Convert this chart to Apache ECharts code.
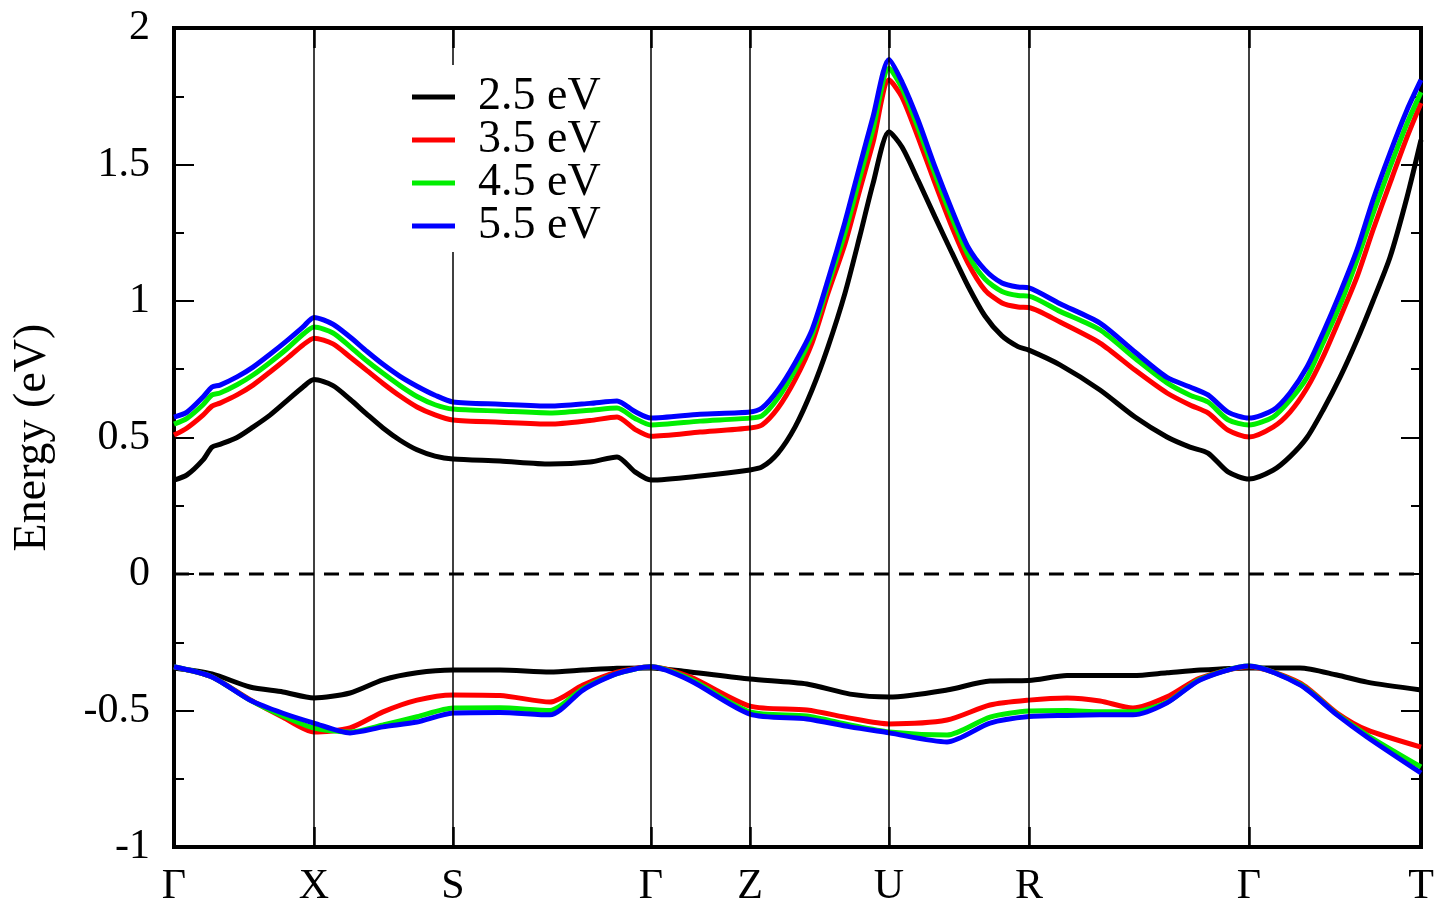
<!DOCTYPE html>
<html>
<head>
<meta charset="utf-8">
<title>Band structure</title>
<script src="https://cdn.jsdelivr.net/npm/echarts@6/dist/echarts.min.js"></script>
<style>
  html, body { margin: 0; padding: 0; background: #fff; }
  #chart { width: 1437px; height: 909px; }
</style>
</head>
<body>
<div id="chart"></div>
<script>
// high-symmetry points along the k-path
var kPos = [0, 0.140, 0.279, 0.477, 0.576, 0.715, 0.855, 1.075, 1.247]
var kLabels = ['Γ', 'X', 'S', 'Γ', 'Z', 'U', 'R', 'Γ', 'T']

var seriesNames = ['2.5 eV', '3.5 eV', '4.5 eV', '5.5 eV']
var seriesColors = ['#000000', '#ff0000', '#00ee00', '#0000ff']

// conduction band (lowest unoccupied), sampled k
var kCond = [0, 0.013, 0.029, 0.038, 0.046, 0.063, 0.079, 0.096, 0.113, 0.129, 0.140,
  0.159, 0.176, 0.193, 0.209, 0.226, 0.243, 0.261, 0.279,
  0.326, 0.376, 0.416, 0.443, 0.461, 0.477,
  0.526, 0.576,
  0.588, 0.604, 0.621, 0.638, 0.654, 0.671, 0.686, 0.699, 0.715,
  0.728, 0.744, 0.761, 0.778, 0.794, 0.811, 0.828, 0.844, 0.855,
  0.886, 0.926, 0.961, 0.993, 1.016, 1.034, 1.054, 1.075,
  1.099, 1.116, 1.133, 1.149, 1.166, 1.183, 1.199, 1.216, 1.233, 1.247]
var cb25 = [0.344, 0.363, 0.418, 0.465, 0.475, 0.500, 0.538, 0.582, 0.635, 0.685, 0.712,
  0.690, 0.640, 0.585, 0.535, 0.490, 0.455, 0.432, 0.421,
  0.414, 0.403, 0.410, 0.429, 0.374, 0.344,
  0.359, 0.381,
  0.392, 0.443, 0.538, 0.674, 0.832, 1.029, 1.240, 1.430, 1.620,
  1.564, 1.443, 1.308, 1.176, 1.055, 0.945, 0.872, 0.833, 0.820,
  0.766, 0.674, 0.575, 0.502, 0.465, 0.443, 0.374, 0.348,
  0.380, 0.430, 0.500, 0.600, 0.720, 0.857, 1.000, 1.160, 1.380, 1.590]
var cb35 = [0.509, 0.535, 0.582, 0.615, 0.626, 0.656, 0.692, 0.740, 0.790, 0.839, 0.864,
  0.843, 0.795, 0.745, 0.698, 0.652, 0.612, 0.583, 0.564,
  0.556, 0.549, 0.562, 0.575, 0.530, 0.505,
  0.520, 0.535,
  0.546, 0.608, 0.711, 0.846, 1.029, 1.210, 1.410, 1.580, 1.810,
  1.747, 1.600, 1.432, 1.271, 1.139, 1.040, 0.993, 0.978, 0.976,
  0.923, 0.846, 0.747, 0.663, 0.619, 0.590, 0.527, 0.502,
  0.538, 0.593, 0.681, 0.795, 0.938, 1.088, 1.260, 1.432, 1.600, 1.725]
var cb45 = [0.549, 0.570, 0.620, 0.656, 0.663, 0.693, 0.729, 0.775, 0.825, 0.878, 0.905,
  0.883, 0.833, 0.780, 0.735, 0.690, 0.650, 0.620, 0.604,
  0.597, 0.590, 0.600, 0.608, 0.570, 0.546,
  0.560, 0.571,
  0.580, 0.645, 0.747, 0.875, 1.058, 1.250, 1.455, 1.630, 1.853,
  1.780, 1.635, 1.465, 1.305, 1.170, 1.080, 1.035, 1.020, 1.018,
  0.962, 0.894, 0.790, 0.700, 0.655, 0.630, 0.565, 0.546,
  0.575, 0.637, 0.720, 0.846, 0.985, 1.150, 1.320, 1.490, 1.650, 1.765]
var cb55 = [0.575, 0.593, 0.648, 0.685, 0.692, 0.722, 0.758, 0.805, 0.855, 0.905, 0.940,
  0.915, 0.868, 0.815, 0.768, 0.724, 0.688, 0.655, 0.630,
  0.622, 0.615, 0.625, 0.634, 0.595, 0.571,
  0.585, 0.593,
  0.608, 0.674, 0.773, 0.894, 1.077, 1.290, 1.498, 1.674, 1.885,
  1.802, 1.663, 1.491, 1.333, 1.198, 1.114, 1.066, 1.051, 1.048,
  0.990, 0.919, 0.813, 0.720, 0.685, 0.656, 0.593, 0.571,
  0.600, 0.663, 0.758, 0.883, 1.029, 1.187, 1.370, 1.542, 1.700, 1.810]

// valence band (highest occupied), sampled k
var kVal = [0, 0.038, 0.076, 0.109, 0.140, 0.176, 0.209, 0.243, 0.279, 0.326,
  0.376, 0.409, 0.443, 0.477, 0.516, 0.576, 0.633, 0.676, 0.715, 0.773, 0.816,
  0.855, 0.893, 0.926, 0.959, 0.993, 1.026, 1.075, 1.126, 1.163, 1.193, 1.247]
var vb25 = [-0.344, -0.366, -0.414, -0.432, -0.454, -0.436, -0.388, -0.362, -0.352, -0.352,
  -0.359, -0.352, -0.345, -0.344, -0.359, -0.385, -0.403, -0.440, -0.451, -0.425, -0.392,
  -0.390, -0.372, -0.372, -0.372, -0.362, -0.352, -0.344, -0.344, -0.370, -0.396, -0.425]
var vb35 = [-0.340, -0.377, -0.460, -0.525, -0.579, -0.564, -0.505, -0.462, -0.443, -0.445,
  -0.469, -0.407, -0.360, -0.340, -0.377, -0.484, -0.498, -0.528, -0.549, -0.535, -0.480,
  -0.462, -0.454, -0.465, -0.491, -0.450, -0.381, -0.340, -0.399, -0.509, -0.571, -0.634]
var vb45 = [-0.340, -0.377, -0.462, -0.520, -0.564, -0.579, -0.553, -0.523, -0.491, -0.490,
  -0.500, -0.420, -0.365, -0.340, -0.385, -0.505, -0.520, -0.553, -0.579, -0.590, -0.524,
  -0.502, -0.500, -0.505, -0.505, -0.470, -0.386, -0.337, -0.404, -0.514, -0.590, -0.707]
var vb55 = [-0.340, -0.377, -0.462, -0.510, -0.546, -0.582, -0.560, -0.542, -0.509, -0.507,
  -0.516, -0.425, -0.365, -0.340, -0.390, -0.513, -0.531, -0.560, -0.582, -0.615, -0.546,
  -0.522, -0.518, -0.516, -0.516, -0.472, -0.388, -0.337, -0.406, -0.516, -0.597, -0.729]

var condBands = [cb25, cb35, cb45, cb55]
var valBands = [vb25, vb35, vb45, vb55]

var eMin = -1
var eMax = 2
var kMax = kPos[kPos.length - 1]

function pairs(ks, es) {
  return ks.map(function (k, i) { return [k, es[i]] })
}

var font = 'Liberation Serif'

var series = []
seriesNames.forEach(function (name, i) {
  [pairs(kCond, condBands[i]), pairs(kVal, valBands[i])].forEach(function (d) {
    series.push({
      name: name,
      type: 'line',
      data: d,
      smooth: 0.25,
      symbol: 'none',
      color: seriesColors[i],
      lineStyle: { width: 5, color: seriesColors[i] },
      z: 2 + i,
      silent: true
    })
  })
})

// high-symmetry vertical lines
kPos.slice(1, -1).forEach(function (k) {
  series.push({
    name: 'kline',
    type: 'line',
    data: [[k, eMin], [k, eMax]],
    symbol: 'none',
    lineStyle: { width: 1.5, color: '#000' },
    z: 10,
    silent: true
  })
})

// Fermi level
series.push({
  name: 'fermi',
  type: 'line',
  data: [[0, 0], [kMax, 0]],
  symbol: 'none',
  lineStyle: { width: 3, color: '#000', type: [15, 10] },
  z: 1,
  silent: true
})

var chart = echarts.init(document.getElementById('chart'))
chart.setOption({
  backgroundColor: '#fff',
  animation: false,
  grid: {
    left: 174,
    right: 16,
    top: 28,
    bottom: 62,
    outerBoundsMode: 'none',
    containLabel: false,
    show: true,
    borderColor: '#000',
    borderWidth: 4,
    backgroundColor: 'transparent'
  },
  legend: {
    data: seriesNames,
    orient: 'vertical',
    left: 400,
    top: 65,
    padding: [9, 12, 3, 12],
    itemGap: -3,
    itemWidth: 43,
    itemHeight: 5,
    icon: 'rect',
    backgroundColor: '#fff',
    z: 20,
    textStyle: {
      fontFamily: font,
      fontSize: 46,
      color: '#000',
      padding: [0, 0, 0, 18]
    }
  },
  xAxis: [{
    type: 'value',
    min: 0,
    max: kMax,
    position: 'bottom',
    axisLine: { show: true, onZero: false, lineStyle: { color: '#000', width: 4 } },
    splitLine: { show: false },
    axisTick: {
      show: true,
      inside: true,
      length: 20,
      customValues: kPos,
      lineStyle: { color: '#000', width: 2.5 }
    },
    axisLabel: {
      show: true,
      customValues: kPos,
      margin: 19,
      fontFamily: font,
      fontSize: 42,
      color: '#000',
      formatter: function (v) {
        var idx = kPos.indexOf(v)
        return idx >= 0 ? kLabels[idx] : ''
      }
    }
  }, {
    type: 'value',
    min: 0,
    max: kMax,
    position: 'top',
    axisLine: { show: false, onZero: false },
    splitLine: { show: false },
    axisTick: {
      show: true,
      inside: true,
      length: 20,
      customValues: kPos,
      lineStyle: { color: '#000', width: 2.5 }
    },
    axisLabel: { show: false }
  }],
  yAxis: [{
    type: 'value',
    min: eMin,
    max: eMax,
    interval: 0.5,
    position: 'left',
    name: 'Energy (eV)',
    nameLocation: 'middle',
    nameGap: 118,
    nameTextStyle: { fontFamily: font, fontSize: 46, color: '#000' },
    axisLine: { show: true, onZero: false, lineStyle: { color: '#000', width: 4 } },
    splitLine: { show: false },
    axisTick: { show: true, inside: true, length: 20, lineStyle: { color: '#000', width: 2 } },
    minorTick: { show: true, splitNumber: 2, length: 10, lineStyle: { color: '#000', width: 2 } },
    axisLabel: { margin: 24, fontFamily: font, fontSize: 42, color: '#000' }
  }, {
    type: 'value',
    min: eMin,
    max: eMax,
    interval: 0.5,
    position: 'right',
    axisLine: { show: true, onZero: false, lineStyle: { color: '#000', width: 4 } },
    splitLine: { show: false },
    axisTick: { show: true, inside: true, length: 20, lineStyle: { color: '#000', width: 2 } },
    minorTick: { show: true, splitNumber: 2, length: 10, lineStyle: { color: '#000', width: 2 } },
    axisLabel: { show: false }
  }],
  series: series
})
</script>
</body>
</html>
